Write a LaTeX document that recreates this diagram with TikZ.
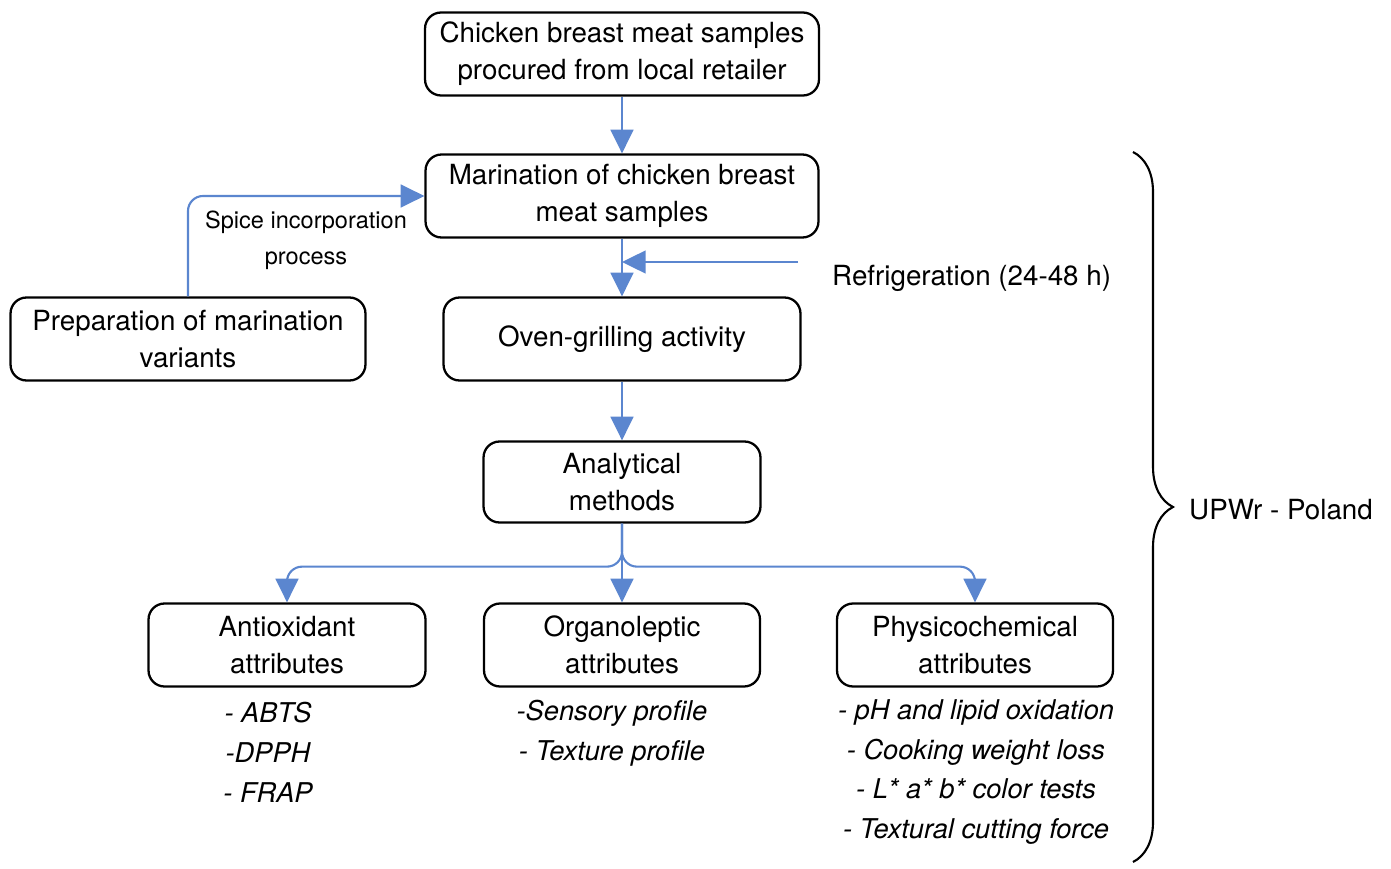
\documentclass[tikz,border=0pt]{standalone}
\usepackage{fontspec}
\setmainfont{TeX Gyre Heros}
\usepackage{tikz}
\usetikzlibrary{arrows.meta,decorations.pathreplacing}
\definecolor{flowblue}{RGB}{91,134,207}
\tikzset{
    box/.style={draw, line width=1.3pt, rounded corners=0.32cm, align=center,
        minimum height=1.66cm, inner sep=0pt, font=\fontsize{15.8}{21}\selectfont},
    flow/.style={draw=flowblue, line width=1.2pt, -{Triangle[length=13.5pt,width=13pt]}},
    note/.style={align=center, font=\fontsize{15.8}{21}\selectfont},
    items/.style={align=center, font=\fontsize{15.5}{22.7}\selectfont\itshape},
}

\begin{document}
\begin{tikzpicture}[x=0.02cm, y=-0.02cm]
    \useasboundingbox (0,0) rectangle (1391,868);
    \node[box, minimum width=7.88cm] (src) at (622,54) {Chicken breast meat samples\\procured from local retailer};
    \node[box, minimum width=7.86cm] (mar) at (622,196) {Marination of chicken breast\\meat samples};
    \node[box, minimum width=7.14cm] (oven) at (622,339) {Oven-grilling activity};
    \node[box, minimum width=7.1cm] (prep) at (188,339) {Preparation of marination\\variants};
    \node[box, minimum width=5.54cm, minimum height=1.62cm] (ana) at (622,482) {Analytical\\methods};
    \node[box, minimum width=5.54cm] (anti) at (287,645) {Antioxidant\\attributes};
    \node[box, minimum width=5.52cm] (org) at (622,645) {Organoleptic\\attributes};
    \node[box, minimum width=5.52cm] (phys) at (975,645) {Physicochemical\\attributes};

    \draw[flow] (src) -- (mar);
    \draw[flow] (mar) -- (oven);
    \coordinate (fridge) at (798,262);
    \draw[flow] (fridge) -- (fridge -| mar.south);
    \node[note, anchor=west] (fridgetxt) at (826,278) {Refrigeration (24-48 h)};
    \draw[flow, rounded corners=0.3cm] (prep.north) |- (mar.west);
    \node[font=\fontsize{13.4}{20.4}\selectfont, align=center] (spice) at (306,240) {Spice incorporation\\process};
    \draw[flow] (oven) -- (ana);
    \draw[flow] (ana) -- (org);
    \draw[flow, rounded corners=0.3cm] (ana.south) -- ++(0,43) -| (anti.north);
    \draw[flow, rounded corners=0.3cm] (ana.south) -- ++(0,43) -| (phys.north);

    \node[items] (antilist) at (268,752) {- ABTS\\-DPPH\\- FRAP};
    \node[items] (orglist) at (612,733) {-Sensory profile\\- Texture profile};
    \node[items] (physlist) at (976,772) {- pH and lipid oxidation\\- Cooking weight loss\\- L* a* b* color tests\\- Textural cutting force};

    % site bracket
    \draw[line width=1.2pt, decorate, decoration={brace, amplitude=0.8cm}] (1133,152) -- (1133,862);
    \node[note, anchor=west] (site) at (1183,510) {UPWr - Poland};
\end{tikzpicture}
\end{document}
